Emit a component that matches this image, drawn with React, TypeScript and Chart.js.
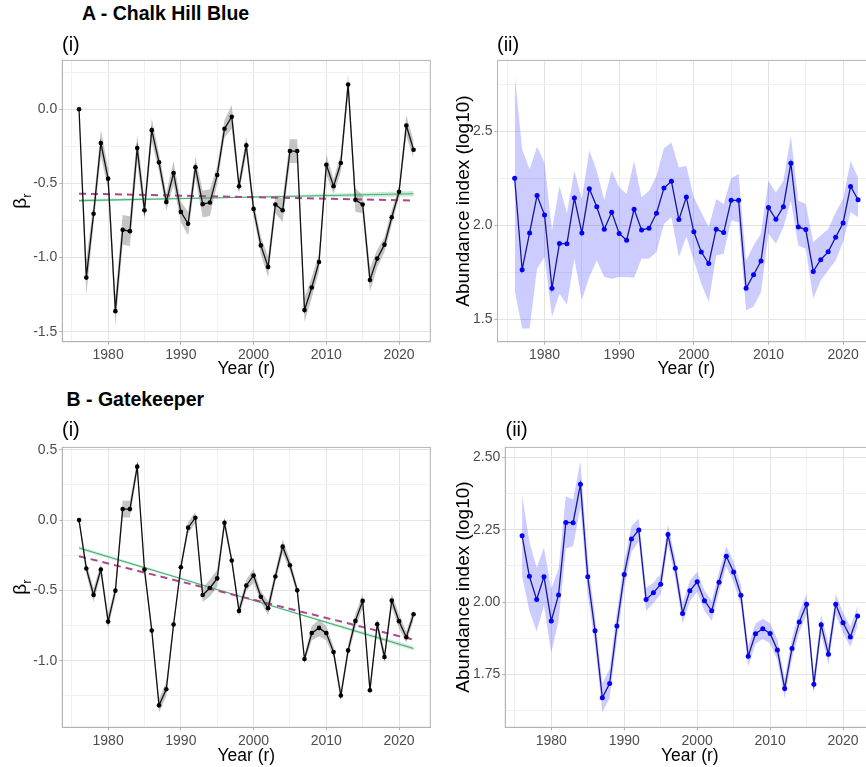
import React, { useEffect, useRef } from 'react';
import { Chart, registerables } from 'chart.js';

Chart.register(...registerables);

const FONT = '"Liberation Sans", Arial, Helvetica, sans-serif';

const YEARS = [
  1976, 1977, 1978, 1979, 1980, 1981, 1982, 1983, 1984, 1985,
  1986, 1987, 1988, 1989, 1990, 1991, 1992, 1993, 1994, 1995,
  1996, 1997, 1998, 1999, 2000, 2001, 2002, 2003, 2004, 2005,
  2006, 2007, 2008, 2009, 2010, 2011, 2012, 2013, 2014, 2015,
  2016, 2017, 2018, 2019, 2020, 2021, 2022,
];

const X_MAJOR = [1980, 1990, 2000, 2010, 2020];
const X_MINOR = [1975, 1985, 1995, 2005, 2015];

// ---------- A (i) Chalk Hill Blue: beta_r ----------
const A_BETA = [
  0.0, -1.135, -0.705, -0.228, -0.468, -1.361, -0.813, -0.822, -0.262, -0.681,
  -0.141, -0.358, -0.625, -0.43, -0.692, -0.772, -0.392, -0.64, -0.629, -0.443,
  -0.132, -0.051, -0.519, -0.244, -0.672, -0.918, -1.063, -0.642, -0.681, -0.282,
  -0.282, -1.354, -1.202, -1.03, -0.374, -0.519, -0.363, 0.166, -0.611, -0.642,
  -1.151, -1.007, -0.913, -0.728, -0.557, -0.11, -0.273,
];
const A_BETA_SE = [
  0.02, 0.12, 0.07, 0.09, 0.07, 0.1, 0.1, 0.1, 0.09, 0.07,
  0.08, 0.06, 0.06, 0.08, 0.07, 0.08, 0.07, 0.09, 0.09, 0.06,
  0.06, 0.08, 0.05, 0.06, 0.05, 0.06, 0.07, 0.06, 0.08, 0.08,
  0.08, 0.08, 0.07, 0.06, 0.07, 0.05, 0.06, 0.07, 0.08, 0.06,
  0.08, 0.06, 0.05, 0.05, 0.04, 0.07, 0.06,
];
const TREND_YEARS = [1976, 1999, 2022];
const A_TREND = [-0.616, -0.593, -0.57];
const A_TREND_SE = [0.01, 0.004, 0.018];
const DASH_YEARS = [1976, 2022];
const A_DASH = [-0.569, -0.615];
const A1_Y_MAJOR = [-1.5, -1.0, -0.5, 0.0];
const A1_Y_MINOR = [-1.25, -0.75, -0.25, 0.25];

// ---------- A (ii) Chalk Hill Blue: abundance ----------
const A_ABUND = [
  2.251, 1.763, 1.959, 2.158, 2.055, 1.664, 1.903, 1.901, 2.145, 1.959,
  2.195, 2.099, 1.979, 2.069, 1.956, 1.92, 2.085, 1.975, 1.984, 2.064,
  2.198, 2.235, 2.03, 2.15, 1.965, 1.857, 1.796, 1.979, 1.961, 2.133,
  2.133, 1.664, 1.736, 1.809, 2.094, 2.032, 2.099, 2.331, 1.991, 1.977,
  1.754, 1.816, 1.858, 1.936, 2.012, 2.207, 2.136,
];
const A_ABUND_HI = [
  2.807, 2.405, 2.299, 2.418, 2.335, 1.972, 2.209, 2.064, 2.29, 2.14,
  2.4, 2.29, 2.135, 2.29, 2.202, 2.166, 2.343, 2.149, 2.184, 2.264,
  2.411, 2.441, 2.308, 2.317, 2.149, 2.069, 1.989, 2.14, 2.113, 2.251,
  2.273, 1.812, 1.892, 1.954, 2.237, 2.175, 2.237, 2.476, 2.131, 2.113,
  1.91, 1.945, 1.98, 2.069, 2.14, 2.343, 2.255,
];
const A_ABUND_LO = [
  1.653, 1.45, 1.45, 1.768, 1.83, 1.512, 1.635, 1.577, 1.821, 1.6,
  1.724, 1.812, 1.724, 1.715, 1.724, 1.724, 1.72, 1.821, 1.821, 1.857,
  2.007, 2.042, 1.83, 1.94, 1.812, 1.688, 1.591, 1.839, 1.848, 2.025,
  2.016, 1.547, 1.565, 1.644, 1.954, 1.901, 1.989, 2.131, 1.892, 1.874,
  1.609, 1.706, 1.759, 1.812, 1.91, 2.069, 2.042,
];
const A2_Y_MAJOR = [1.5, 2.0, 2.5];
const A2_Y_MINOR = [1.75, 2.25, 2.75];

// ---------- B (i) Gatekeeper: beta_r ----------
const B_BETA = [
  0.0, -0.344, -0.533, -0.351, -0.722, -0.502, 0.078, 0.078, 0.38, -0.351,
  -0.785, -1.318, -1.203, -0.743, -0.335, -0.054, 0.017, -0.533, -0.483, -0.415,
  -0.019, -0.288, -0.646, -0.465, -0.394, -0.545, -0.627, -0.401, -0.189, -0.321,
  -0.5, -0.988, -0.804, -0.767, -0.804, -0.939, -1.248, -0.927, -0.717, -0.575,
  -1.21, -0.741, -0.974, -0.573, -0.719, -0.833, -0.67,
];
const B_BETA_SE = [
  0.02, 0.04, 0.05, 0.04, 0.05, 0.04, 0.06, 0.06, 0.04, 0.03,
  0.03, 0.05, 0.05, 0.03, 0.03, 0.04, 0.04, 0.05, 0.06, 0.06,
  0.04, 0.03, 0.04, 0.04, 0.05, 0.04, 0.05, 0.04, 0.05, 0.04,
  0.03, 0.03, 0.05, 0.06, 0.05, 0.04, 0.04, 0.04, 0.05, 0.05,
  0.04, 0.04, 0.04, 0.05, 0.05, 0.04, 0.04,
];
const B_TREND = [-0.198, -0.556, -0.913];
const B_TREND_SE = [0.012, 0.004, 0.015];
const B_DASH = [-0.257, -0.851];
const B1_Y_MAJOR = [-1.0, -0.5, 0.0, 0.5];
const B1_Y_MINOR = [-1.25, -0.75, -0.25, 0.25];

// ---------- B (ii) Gatekeeper: abundance ----------
const B_ABUND = [
  2.229, 2.089, 2.009, 2.088, 1.935, 2.025, 2.275, 2.274, 2.407, 2.088,
  1.901, 1.67, 1.719, 1.918, 2.095, 2.218, 2.249, 2.009, 2.032, 2.062,
  2.233, 2.117, 1.961, 2.039, 2.07, 2.005, 1.97, 2.069, 2.158, 2.104,
  2.024, 1.813, 1.891, 1.908, 1.892, 1.835, 1.702, 1.84, 1.931, 1.993,
  1.717, 1.922, 1.82, 1.993, 1.929, 1.88, 1.952,
];
const B_ABUND_SE = [
  0.14, 0.12, 0.11, 0.1, 0.11, 0.09, 0.09, 0.08, 0.08, 0.06,
  0.05, 0.05, 0.05, 0.05, 0.045, 0.045, 0.04, 0.04, 0.035, 0.035,
  0.035, 0.035, 0.035, 0.035, 0.035, 0.035, 0.035, 0.035, 0.035, 0.035,
  0.035, 0.035, 0.035, 0.035, 0.035, 0.035, 0.035, 0.035, 0.035, 0.035,
  0.035, 0.035, 0.035, 0.035, 0.035, 0.035, 0.035,
];
const B2_Y_MAJOR = [1.75, 2.0, 2.25, 2.5];
const B2_Y_MINOR = [1.625, 1.875, 2.125, 2.375];

// ---------- helpers ----------
const CLEAR = 'rgba(0,0,0,0)';

function series(xs: number[], ys: number[], opts: any) {
  return {
    data: xs.map((x, i) => ({ x, y: ys[i] })),
    fill: false,
    tension: 0,
    ...opts,
  };
}

function ribbon(xs: number[], lo: number[], hi: number[], color: string, order: number) {
  return [
    series(xs, lo, { borderColor: CLEAR, borderWidth: 0, pointRadius: 0, order }),
    series(xs, hi, {
      borderColor: CLEAR,
      borderWidth: 0,
      pointRadius: 0,
      fill: '-1',
      backgroundColor: color,
      order,
    }),
  ];
}

const framePlugin = {
  id: 'frame',
  afterDatasetsDraw(chart: any) {
    const { ctx, chartArea: a } = chart;
    ctx.save();
    ctx.strokeStyle = '#b3b3b3';
    ctx.lineWidth = 1;
    ctx.strokeRect(a.left, a.top, a.right - a.left, a.bottom - a.top);
    ctx.restore();
  },
};

function betaDatasets(beta: number[], se: number[], trend: number[], trendSe: number[], dash: number[]) {
  return [
    ...ribbon(
      YEARS,
      beta.map((v, i) => v - se[i]),
      beta.map((v, i) => v + se[i]),
      'rgba(150,150,150,0.55)',
      10
    ),
    ...ribbon(
      TREND_YEARS,
      trend.map((v, i) => v - trendSe[i]),
      trend.map((v, i) => v + trendSe[i]),
      'rgba(60,179,113,0.28)',
      9
    ),
    series(TREND_YEARS, trend, { borderColor: '#48b072', borderWidth: 1.1, pointRadius: 0, order: 3 }),
    series(DASH_YEARS, dash, {
      borderColor: '#b0448f',
      borderWidth: 2,
      borderDash: [7, 5],
      pointRadius: 0,
      order: 2,
    }),
    series(YEARS, beta, {
      borderColor: '#111111',
      borderWidth: 1.3,
      pointRadius: 2.3,
      pointBackgroundColor: '#000000',
      pointBorderWidth: 0,
      order: 1,
    }),
  ];
}

function abundDatasets(vals: number[], lo: number[], hi: number[]) {
  return [
    ...ribbon(YEARS, lo, hi, 'rgba(0,0,255,0.2)', 10),
    series(YEARS, vals, {
      borderColor: '#15159e',
      borderWidth: 1.3,
      pointRadius: 2.5,
      pointBackgroundColor: '#0000ff',
      pointBorderWidth: 0,
      order: 1,
    }),
  ];
}

type Box = { left: number; top: number; w: number; h: number };
type Area = { left: number; top: number; right: number; bottom: number };

type Spec = {
  box: Box;
  area: Area;
  xMin: number;
  xMax: number;
  yMin: number;
  yMax: number;
  yMajor: number[];
  yMinor: number[];
  yDigits: number;
  datasets: any[];
};

function buildConfig(spec: Spec): any {
  const { box, area } = spec;
  const yW = area.left - box.left;
  const padTop = area.top - box.top;
  const padRight = box.left + box.w - area.right;
  const xH = box.top + box.h - area.bottom;
  const xTicks = [...X_MINOR, ...X_MAJOR].sort((a, b) => a - b);
  const yTicks = [...spec.yMajor, ...spec.yMinor].sort((a, b) => a - b);
  const isMajX = (v: number) => X_MAJOR.some((m) => Math.abs(m - v) < 1e-9);
  const isMajY = (v: number) => spec.yMajor.some((m) => Math.abs(m - v) < 1e-9);
  const tickFont = { size: 14, family: FONT };
  const gridFor = (isMaj: (v: number) => boolean) => ({
    color: (c: any) => (c.tick && isMaj(c.tick.value) ? '#e3e3e3' : '#f1f1f1'),
    lineWidth: 1,
    tickLength: 3,
    tickColor: (c: any) => (c.tick && isMaj(c.tick.value) ? '#b3b3b3' : CLEAR),
    tickWidth: 1,
    drawTicks: true,
  });
  return {
    type: 'line',
    data: { datasets: spec.datasets },
    options: {
      animation: false,
      responsive: false,
      maintainAspectRatio: false,
      layout: { padding: { left: 0, top: padTop, right: padRight, bottom: 0 } },
      plugins: {
        legend: { display: false },
        tooltip: { enabled: false },
        filler: { drawTime: 'beforeDatasetsDraw' },
      },
      scales: {
        x: {
          type: 'linear',
          min: spec.xMin,
          max: spec.xMax,
          afterBuildTicks: (s: any) => {
            s.ticks = xTicks.map((v) => ({ value: v }));
          },
          afterFit: (s: any) => {
            s.height = xH;
          },
          ticks: {
            autoSkip: false,
            maxRotation: 0,
            padding: 2,
            color: '#4d4d4d',
            font: tickFont,
            callback: (v: number) => (isMajX(v) ? String(v) : ''),
          },
          grid: gridFor(isMajX),
          border: { display: true, color: '#b3b3b3', width: 1 },
          title: {
            display: true,
            text: 'Year (r)',
            color: '#000000',
            font: { size: 17.5, family: FONT },
            padding: { top: 0, bottom: 0 },
          },
        },
        y: {
          type: 'linear',
          min: spec.yMin,
          max: spec.yMax,
          afterBuildTicks: (s: any) => {
            s.ticks = yTicks.map((v) => ({ value: v }));
          },
          afterFit: (s: any) => {
            s.width = yW;
          },
          ticks: {
            autoSkip: false,
            padding: 2,
            color: '#4d4d4d',
            font: tickFont,
            callback: (v: number) => (isMajY(v) ? v.toFixed(spec.yDigits) : ''),
          },
          grid: gridFor(isMajY),
          border: { display: true, color: '#b3b3b3', width: 1 },
        },
      },
    },
    plugins: [framePlugin],
  };
}

function Panel({ spec }: { spec: Spec }) {
  const ref = useRef<HTMLCanvasElement | null>(null);
  useEffect(() => {
    if (!ref.current) return;
    const chart = new Chart(ref.current, buildConfig(spec));
    return () => chart.destroy();
  }, []);
  const { box } = spec;
  return (
    <canvas
      ref={ref}
      width={box.w}
      height={box.h}
      style={{ position: 'absolute', left: box.left, top: box.top, width: box.w, height: box.h }}
    />
  );
}

const SPEC_A1: Spec = {
  box: { left: 0, top: 50, w: 445, h: 330 },
  area: { left: 62.3, top: 59.3, right: 430.3, bottom: 341.7 },
  xMin: 1973.7,
  xMax: 2024.3,
  yMin: -1.567,
  yMax: 0.329,
  yMajor: A1_Y_MAJOR,
  yMinor: A1_Y_MINOR,
  yDigits: 1,
  datasets: betaDatasets(A_BETA, A_BETA_SE, A_TREND, A_TREND_SE, A_DASH),
};

const SPEC_A2: Spec = {
  box: { left: 445, top: 50, w: 440, h: 330 },
  area: { left: 497.5, top: 59.3, right: 875.2, bottom: 341.7 },
  xMin: 1973.7,
  xMax: 2024.3,
  yMin: 1.379,
  yMax: 2.879,
  yMajor: A2_Y_MAJOR,
  yMinor: A2_Y_MINOR,
  yDigits: 1,
  datasets: abundDatasets(A_ABUND, A_ABUND_LO, A_ABUND_HI),
};

const SPEC_B1: Spec = {
  box: { left: 0, top: 437, w: 445, h: 330 },
  area: { left: 62.3, top: 446, right: 430.3, bottom: 727.3 },
  xMin: 1973.7,
  xMax: 2024.3,
  yMin: -1.474,
  yMax: 0.517,
  yMajor: B1_Y_MAJOR,
  yMinor: B1_Y_MINOR,
  yDigits: 1,
  datasets: betaDatasets(B_BETA, B_BETA_SE, B_TREND, B_TREND_SE, B_DASH),
};

const SPEC_B2: Spec = {
  box: { left: 445, top: 437, w: 440, h: 330 },
  area: { left: 505.3, top: 446, right: 874.4, bottom: 727.3 },
  xMin: 1973.7,
  xMax: 2024.3,
  yMin: 1.568,
  yMax: 2.534,
  yMajor: B2_Y_MAJOR,
  yMinor: B2_Y_MINOR,
  yDigits: 2,
  datasets: abundDatasets(
    B_ABUND,
    B_ABUND.map((v, i) => v - B_ABUND_SE[i]),
    B_ABUND.map((v, i) => v + B_ABUND_SE[i])
  ),
};

const textBase: React.CSSProperties = {
  position: 'absolute',
  whiteSpace: 'nowrap',
  lineHeight: 1,
  color: '#000',
  fontFamily: FONT,
};

function Heading({ left, top, text }: { left: number; top: number; text: string }) {
  return <div style={{ ...textBase, left, top, fontSize: 19.5, fontWeight: 'bold' }}>{text}</div>;
}

function Sub({ left, top, text }: { left: number; top: number; text: string }) {
  return <div style={{ ...textBase, left, top, fontSize: 20 }}>{text}</div>;
}

function VTitle({ cx, cy, children }: { cx: number; cy: number; children: React.ReactNode }) {
  return (
    <div
      style={{
        ...textBase,
        left: cx,
        top: cy,
        fontSize: 19,
        transform: 'translate(-50%, -50%) rotate(-90deg)',
      }}
    >
      {children}
    </div>
  );
}

function Beta() {
  return (
    <span>
      β<span style={{ fontSize: 13, position: 'relative', top: 5 }}>r</span>
    </span>
  );
}

export default function App() {
  return (
    <div
      style={{
        position: 'fixed',
        left: 0,
        top: 0,
        width: 866,
        height: 767,
        overflow: 'hidden',
        background: '#ffffff',
        fontFamily: FONT,
      }}
    >
      <Panel spec={SPEC_A1} />
      <Panel spec={SPEC_A2} />
      <Panel spec={SPEC_B1} />
      <Panel spec={SPEC_B2} />

      <Heading left={82} top={4} text="A - Chalk Hill Blue" />
      <Sub left={62} top={33.5} text="(i)" />
      <Sub left={497} top={33.5} text="(ii)" />

      <Heading left={66.5} top={390} text="B - Gatekeeper" />
      <Sub left={62} top={418.5} text="(i)" />
      <Sub left={505.5} top={418.5} text="(ii)" />

      <VTitle cx={19} cy={200.5}>
        <Beta />
      </VTitle>
      <VTitle cx={462} cy={200.5}>
        Abundance index (log10)
      </VTitle>
      <VTitle cx={19} cy={586.6}>
        <Beta />
      </VTitle>
      <VTitle cx={462} cy={586.6}>
        Abundance index (log10)
      </VTitle>
    </div>
  );
}
